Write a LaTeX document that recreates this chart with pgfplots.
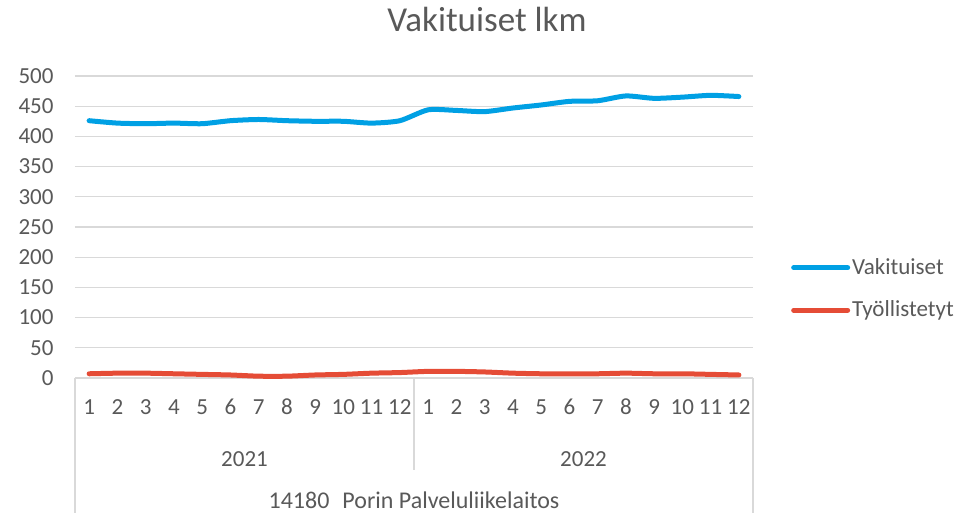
\documentclass[border=0pt]{standalone}
\usepackage{fontspec}
\setmainfont{Carlito}
\usepackage{pgfplots}
\pgfplotsset{compat=1.18}
\definecolor{blu}{RGB}{0,160,228}
\definecolor{rd}{RGB}{229,76,54}
\definecolor{txt}{RGB}{89,89,89}
\definecolor{grd}{RGB}{217,217,217}
\newcommand\lf{\fontsize{23bp}{27bp}\selectfont}
\begin{document}
\begin{tikzpicture}
\useasboundingbox (-75bp,-135bp) rectangle (899bp,378bp);
\begin{axis}[
  at={(0,0)}, anchor=south west,
  scale only axis, width=678bp, height=302bp,
  xmin=0.5, xmax=24.5, ymin=0, ymax=500,
  ytick={0,50,...,500},
  xtick={1,...,24},
  xticklabels={1,2,3,4,5,6,7,8,9,10,11,12,1,2,3,4,5,6,7,8,9,10,11,12},
  /pgf/number format/assume math mode=true,
  ymajorgrids, grid style={grd, line width=1.3bp},
  axis lines*=left,
  y axis line style={draw=none},
  x axis line style={grd, line width=1.3bp, -},
  major tick length=0pt,
  tick style={draw=none},
  ticklabel style={font=\lf, text=txt},
  yticklabel style={anchor=east, xshift=-18bp},
  xticklabel style={anchor=base, yshift=-36bp, inner sep=0pt},
  clip=false,
  legend style={at={(1.0560,0.2964)}, anchor=west, draw=none, fill=none,
    font=\lf, text=txt, row sep=21bp, inner sep=0pt,
    nodes={inner sep=2bp}},
  legend cell align=left,
  legend image code/.code={\draw[#1, line width=5bp, line cap=round] (0bp,-0.5bp) -- (54bp,-0.5bp);},
]
\addplot[blu, line width=5bp, smooth, tension=0.4, line cap=round] coordinates {
(1,426)(2,422)(3,421)(4,422)(5,421)(6,426)(7,428)(8,426)(9,425)(10,425)(11,422)(12,426)
(13,444)(14,443)(15,441)(16,447)(17,452)(18,458)(19,459)(20,467)(21,463)(22,465)(23,468)(24,466)};
\addlegendentry{Vakituiset}
\addplot[rd, line width=5bp, smooth, tension=0.4, line cap=round] coordinates {
(1,7)(2,8)(3,8)(4,7)(5,6)(6,5)(7,3)(8,3)(9,5)(10,6)(11,8)(12,9)
(13,11)(14,11)(15,10)(16,8)(17,7)(18,7)(19,7)(20,8)(21,7)(22,7)(23,6)(24,5)};
\addlegendentry{Työllistetyt}
\draw[grd, line width=1.3bp] (axis cs:0.5,0) -- ++(0bp,-135bp);
\draw[grd, line width=1.3bp] (axis cs:12.5,0) -- ++(0bp,-92bp);
\draw[grd, line width=1.3bp] (axis cs:24.5,0) -- ++(0bp,-135bp);
\node[anchor=base, font=\lf, text=txt, yshift=-88bp] at (axis cs:6.5,0) {2021};
\node[anchor=base, font=\lf, text=txt, yshift=-88bp] at (axis cs:18.5,0) {2022};
\node[anchor=base, font=\fontsize{24bp}{28bp}\selectfont, text=txt, yshift=-130bp] at (axis cs:12.5,0) {14180\hspace{13bp}Porin Palveluliikelaitos};
\end{axis}
\node[anchor=base, font=\fontsize{35bp}{40bp}\selectfont, text=txt] at (412bp,346bp) {Vakituiset lkm};
\end{tikzpicture}
\end{document}
